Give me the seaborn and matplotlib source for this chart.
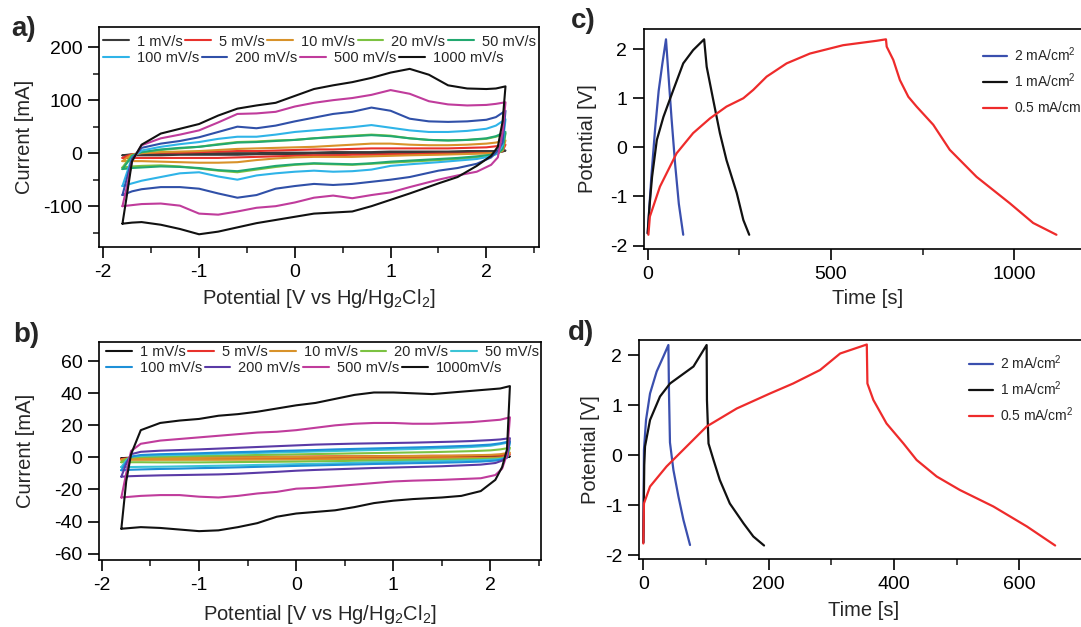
import matplotlib
matplotlib.use("Agg")
import matplotlib.pyplot as plt
import seaborn as sns
from matplotlib.ticker import MultipleLocator
from matplotlib.lines import Line2D

sns.set_style("ticks")
plt.rcParams['font.family'] = ['Liberation Sans', 'DejaVu Sans']
plt.rcParams['mathtext.fontset'] = 'custom'
plt.rcParams['mathtext.rm'] = 'Liberation Sans'
plt.rcParams['mathtext.it'] = 'Liberation Sans:italic'
plt.rcParams['mathtext.bf'] = 'Liberation Sans:bold'

# ---------------- data ----------------
# shared potential grids (V) for anodic (up) and cathodic (down) sweeps
V_UP = [-1.8, -1.75, -1.7, -1.6, -1.4, -1.2, -1.0, -0.8, -0.6, -0.4, -0.2, 0.0,
        0.2, 0.4, 0.6, 0.8, 1.0, 1.2, 1.4, 1.6, 1.8, 2.0, 2.1, 2.2]
V_DN = [2.2, 2.17, 2.12, 2.05, 1.9, 1.7, 1.5, 1.2, 1.0, 0.8, 0.6, 0.4, 0.2, 0.0,
        -0.2, -0.4, -0.6, -0.8, -1.0, -1.2, -1.4, -1.6, -1.7, -1.8]

A_LABELS = ['1 mV/s', '5 mV/s', '10 mV/s', '20 mV/s', '50 mV/s',
            '100 mV/s', '200 mV/s', '500 mV/s', '1000 mV/s']
B_LABELS = ['1 mV/s', '5 mV/s', '10 mV/s', '20 mV/s', '50 mV/s',
            '100 mV/s', '200 mV/s', '500 mV/s', '1000mV/s']

# panel a currents (mA)
A1_UP = [-4, -3, -2, -2, -1, -1, -1, 0, 0, 0, 1, 1, 1, 2, 2, 2, 3, 3, 3, 3, 4, 4, 4, 5]
A1_DN = [5, 3, 2, 2, 1, 1, 1, 0, 0, 0, -1, -1, -1, -2, -2, -2, -3, -3, -3, -3, -4, -4, -4, -4]
A5_UP = [-9, -5, -2, 0, 1, 1, 2, 3, 4, 4, 5, 6, 7, 7, 8, 9, 9, 9, 9, 9, 10, 11, 13, 16]
A5_DN = [16, 4, 1, 0, 0, -1, -1, -2, -2, -3, -3, -4, -4, -5, -6, -7, -8, -9, -9, -9, -9, -9, -9, -9]
A10_UP = [-15, -8, -3, 0, 2, 3, 4, 6, 8, 9, 10, 11, 12, 14, 16, 18, 18, 16, 15, 15, 16, 18, 20, 24]
A10_DN = [24, 5, 1, 0, -1, -2, -3, -4, -5, -6, -7, -7, -7, -8, -10, -13, -17, -18, -18, -17, -16, -15, -15, -15]
A20_UP = [-27, -15, -4, 2, 6, 9, 12, 17, 21, 22, 24, 25, 28, 31, 33, 35, 33, 28, 25, 24, 25, 27, 31, 37]
A20_DN = [37, 6, -1, -4, -8, -11, -13, -16, -18, -20, -22, -21, -20, -22, -26, -31, -36, -33, -29, -25, -23, -24, -25, -27]
A50_UP = [-30, -18, -5, 2, 7, 10, 12, 16, 20, 21, 23, 25, 28, 30, 32, 34, 32, 28, 25, 24, 25, 28, 32, 40]
A50_DN = [40, 8, 0, -3, -6, -9, -11, -14, -16, -19, -21, -20, -19, -21, -24, -29, -34, -32, -28, -26, -25, -27, -28, -30]
A100_UP = [-62, -35, -8, 5, 12, 17, 21, 27, 31, 31, 35, 40, 43, 46, 49, 53, 48, 43, 40, 40, 42, 46, 52, 64]
A100_DN = [64, 15, 0, -6, -11, -14, -17, -21, -24, -31, -34, -35, -33, -35, -38, -42, -50, -44, -36, -38, -45, -52, -57, -62]
A200_UP = [-79, -45, -10, 10, 18, 23, 30, 40, 50, 47, 52, 60, 67, 74, 78, 86, 80, 65, 60, 59, 60, 63, 68, 80]
A200_DN = [80, 20, 5, -8, -20, -28, -33, -45, -50, -54, -58, -60, -58, -62, -67, -79, -84, -76, -67, -64, -64, -68, -72, -79]
A500_UP = [-100, -60, -15, 15, 28, 35, 43, 58, 74, 75, 78, 88, 95, 100, 104, 110, 119, 112, 98, 92, 90, 91, 93, 96]
A500_DN = [96, 40, -8, -22, -35, -42, -50, -64, -74, -79, -85, -80, -84, -93, -100, -103, -110, -116, -114, -99, -95, -96, -98, -100]
A1000_UP = [-133, -75, -15, 16, 37, 46, 55, 71, 84, 90, 95, 108, 121, 128, 134, 142, 152, 159, 148, 128, 122, 121, 122, 126]
A1000_DN = [126, 60, 12, -5, -24, -45, -57, -76, -88, -100, -110, -112, -114, -120, -126, -132, -140, -148, -153, -143, -135, -130, -131, -133]

# panel b currents (mA)
B1_UP = [-0.5, -0.3, -0.2, -0.1, 0, 0, 0, 0, 0.1, 0.1, 0.1, 0.1, 0.2, 0.2, 0.2, 0.2, 0.3, 0.3, 0.3, 0.3, 0.4, 0.4, 0.5, 0.6]
B1_DN = [0.6, 0.2, 0, -0.1, -0.1, -0.2, -0.2, -0.2, -0.3, -0.3, -0.3, -0.3, -0.4, -0.4, -0.4, -0.4, -0.4, -0.5, -0.5, -0.5, -0.5, -0.5, -0.5, -0.5]
B5_UP = [-1, -0.6, -0.3, -0.1, 0, 0.1, 0.2, 0.3, 0.3, 0.4, 0.5, 0.5, 0.6, 0.7, 0.7, 0.8, 0.9, 0.9, 1.0, 1.0, 1.1, 1.3, 1.5, 2.0]
B5_DN = [2.0, 0.3, 0, -0.2, -0.3, -0.4, -0.4, -0.5, -0.5, -0.6, -0.6, -0.7, -0.7, -0.8, -0.8, -0.8, -0.9, -0.9, -0.9, -1.0, -1.0, -1.0, -1.0, -1.0]
B10_UP = [-1.5, -1, -0.6, -0.5, -0.4, -0.3, -0.2, -0.1, 0, 0.1, 0.2, 0.3, 0.4, 0.5, 0.6, 0.7, 0.8, 0.9, 1.0, 1.1, 1.3, 1.6, 2.0, 3.0]
B10_DN = [3.0, 0.5, 0, -0.2, -0.4, -0.5, -0.6, -0.7, -0.8, -0.9, -1.0, -1.1, -1.2, -1.3, -1.35, -1.4, -1.45, -1.5, -1.5, -1.5, -1.5, -1.5, -1.5, -1.5]
B20_UP = [-3, -1, 0, 0.3, 0.5, 0.7, 0.9, 1.1, 1.3, 1.5, 1.7, 1.9, 2.1, 2.3, 2.5, 2.7, 2.9, 3.1, 3.3, 3.6, 3.9, 4.4, 5.0, 6.0]
B20_DN = [6.0, 0, -0.5, -0.8, -1.0, -1.2, -1.4, -1.6, -1.8, -2.0, -2.1, -2.3, -2.4, -2.6, -2.7, -2.8, -2.9, -3.0, -3.1, -3.1, -3.1, -3.0, -3.0, -3.0]
B50_UP = [-6, -2, 0.5, 1, 1.3, 1.6, 1.9, 2.2, 2.5, 2.8, 3.1, 3.4, 3.7, 4.0, 4.3, 4.6, 4.9, 5.2, 5.6, 6.0, 6.5, 7.3, 8.3, 9.5]
B50_DN = [9.5, 0, -0.8, -1.3, -1.7, -2.0, -2.3, -2.6, -2.9, -3.1, -3.4, -3.7, -4.0, -4.2, -4.5, -4.7, -5.0, -5.2, -5.4, -5.6, -5.8, -5.9, -6.0, -6.0]
B100_UP = [-8, -3, 0.5, 1.5, 2, 2.3, 2.6, 3, 3.3, 3.6, 4, 4.3, 4.6, 5, 5.3, 5.6, 5.9, 6.2, 6.5, 6.9, 7.3, 8, 8.8, 10]
B100_DN = [10, 0, -1.2, -2, -2.6, -3, -3.3, -3.6, -3.9, -4.1, -4.4, -4.7, -5, -5.3, -5.6, -5.9, -6.2, -6.5, -6.7, -7, -7.2, -7.5, -7.7, -8]
B200_UP = [-12, -4, 2, 3.5, 4.2, 4.6, 5, 5.5, 6, 6.5, 7, 7.5, 8, 8.3, 8.6, 8.8, 9, 9.2, 9.5, 9.8, 10.2, 10.8, 11.2, 12]
B200_DN = [12, 0, -2, -3.5, -4.5, -5, -5.5, -6, -6.3, -6.6, -7, -7.4, -7.8, -8.3, -9, -9.6, -10.2, -10.6, -10.8, -11, -11.2, -11.5, -11.7, -12]
B500_UP = [-25, -10, 4, 8.5, 10.5, 11.5, 12.5, 13.5, 14.5, 15.5, 16, 17, 18.5, 20, 21, 21.5, 21.5, 21, 21, 21.5, 22, 23, 23.5, 25]
B500_DN = [25, 2, -7, -11, -13, -13.5, -14, -14.5, -15, -16, -17, -18, -19, -19.5, -21.5, -22.5, -24, -25, -24.5, -23.5, -23.5, -24, -24.5, -25]
B1000_UP = [-44.5, -15, 2, 17, 21.5, 23, 24, 26, 27, 28.5, 30.5, 32.5, 34, 36.5, 39, 40.5, 40.5, 40, 39.5, 40.5, 41.5, 42.5, 43, 44.5]
B1000_DN = [44.5, 5, -6, -14, -21, -24, -25, -26, -27, -28.5, -31, -33, -34, -35, -37, -41, -43.5, -45.5, -46, -45, -44, -43.5, -44, -44.5]

A_COLORS = ['#3a3a3a', '#e8322c', '#d8922a', '#7cc242', '#22a870',
            '#2fb4e8', '#3050a8', '#c03c9c', '#111111']
B_COLORS = ['#111111', '#e8322c', '#d8922a', '#7cc242', '#3cc4d6',
            '#1e90d8', '#5a3aa6', '#c03c9c', '#111111']

# galvanostatic charge/discharge (time s, potential V)
GCD_LABELS = ['2 mA/cm$^2$', '1 mA/cm$^2$', '0.5 mA/cm$^2$']
GCD_COLORS = ['#3a4fae', '#111111', '#ee2b2b']
C2_T = [0, 10, 20, 30, 40, 50, 56, 65, 75, 85, 97]
C2_V = [-1.75, -0.6, 0.35, 1.15, 1.7, 2.2, 1.55, 0.6, -0.35, -1.15, -1.78]
C1_T = [0, 5, 12, 25, 43, 70, 97, 124, 154, 161, 179, 197, 215, 243, 261, 277]
C1_V = [-1.75, -1.2, -0.6, 0.15, 0.62, 1.17, 1.71, 1.98, 2.2, 1.64, 0.96, 0.29, -0.26, -0.93, -1.48, -1.78]
C05_T = [2, 6, 33.5, 79, 124, 170, 215, 261, 288, 324.5, 379, 442.6, 533, 624.5, 650,
         652, 670, 688, 711, 733.6, 779, 824, 897, 988, 1051.5, 1115]
C05_V = [-1.78, -1.41, -0.8, -0.12, 0.29, 0.59, 0.83, 1.0, 1.17, 1.44, 1.71, 1.91, 2.08, 2.17, 2.2,
         2.05, 1.78, 1.37, 1.03, 0.83, 0.46, -0.05, -0.6, -1.14, -1.54, -1.78]
D2_T = [0, 1, 4.3, 10.7, 21.3, 32, 40, 41, 42.5, 48, 56, 64, 74.5]
D2_V = [-1.75, 0.1, 0.7, 1.23, 1.67, 1.97, 2.2, 1.2, 0.25, -0.3, -0.83, -1.3, -1.8]
D1_T = [0, 1.5, 2.7, 10.7, 26.6, 42.6, 80, 101, 101.5, 104, 112, 122, 138, 160, 175.5, 192.6]
D1_V = [-1.75, -0.2, 0.17, 0.7, 1.17, 1.43, 1.77, 2.2, 1.1, 0.23, -0.1, -0.5, -0.97, -1.37, -1.63, -1.81]
D05_T = [0, 1, 10.7, 37, 69, 101, 149, 202, 239, 282, 314, 356.5, 357.5, 367, 388, 415, 436,
         468, 505, 558.5, 612, 657]
D05_V = [-1.77, -0.97, -0.63, -0.23, 0.17, 0.57, 0.93, 1.23, 1.43, 1.7, 2.03, 2.21, 1.43, 1.1, 0.63,
         0.23, -0.1, -0.43, -0.7, -1.03, -1.43, -1.81]

# ---------------- layout ----------------
W, H = 1081, 627
fig = plt.figure(figsize=(W / 100, H / 100), dpi=100)


def add_axes(l, t, r, b):
    return fig.add_axes([l / W, 1 - b / H, (r - l) / W, (b - t) / H])


def style(ax, left, top, right, bottom, ylab_px, xlab_top_px):
    for s in ax.spines.values():
        s.set_linewidth(1.2)
        s.set_color('black')
    ax.tick_params(which='major', direction='out', length=8, width=1.2,
                   labelsize=14, pad=4, colors='black')
    ax.tick_params(which='minor', direction='out', length=4.3, width=1.2)
    ax.tick_params(top=False, right=False, which='both')
    ax.xaxis.label.set_size(14.5)
    ax.yaxis.label.set_size(14.5)
    ax.yaxis.set_label_coords((ylab_px - left) / (right - left), 0.5)
    ax.xaxis.set_label_coords(0.5, -(xlab_top_px - bottom) / (bottom - top))


def cv_panel(box, ups, dns, labels, colors, ylim, yticks, yminor, xlim,
             leg_rows, ylab_px, xlab_px):
    l, t, r, b = box
    ax = add_axes(l, t, r, b)
    for up, dn, col in zip(ups, dns, colors):
        sns.lineplot(x=V_UP + V_DN, y=up + dn, sort=False, estimator=None,
                     color=col, linewidth=1.5, ax=ax, legend=False)
    ax.set_xlim(*xlim)
    ax.set_ylim(*ylim)
    ax.set_yticks(yticks)
    if yminor:
        ax.yaxis.set_minor_locator(MultipleLocator(yminor))
    ax.set_xticks([-2, -1, 0, 1, 2])
    ax.set_xticklabels(['-2', '-1', '0', '1', '2'])
    ax.set_yticklabels([str(v) for v in yticks])
    ax.xaxis.set_minor_locator(MultipleLocator(0.5))
    ax.set_xlabel('Potential [V vs Hg/Hg$_2$Cl$_2$]')
    ax.set_ylabel('Current [mA]')
    style(ax, l, t, r, b, ylab_px, xlab_px)
    handles = [Line2D([], [], color=c, lw=1.5) for c in colors]
    legs = []
    for (i0, i1, xpx, ypx) in leg_rows:
        leg = ax.legend(handles[i0:i1], labels[i0:i1], ncol=i1 - i0,
                        loc='upper left', bbox_to_anchor=(xpx / W, 1 - ypx / H),
                        bbox_transform=fig.transFigure, frameon=False,
                        fontsize=10.5, handlelength=1.75, handletextpad=0.55,
                        columnspacing=0.2, borderpad=0, borderaxespad=0)
        legs.append(leg)
    for leg in legs[:-1]:
        ax.add_artist(leg)
    return ax


# panel a
cv_panel((99, 27, 539, 247),
         [A1_UP, A5_UP, A10_UP, A20_UP, A50_UP, A100_UP, A200_UP, A500_UP, A1000_UP],
         [A1_DN, A5_DN, A10_DN, A20_DN, A50_DN, A100_DN, A200_DN, A500_DN, A1000_DN],
         A_LABELS, A_COLORS, (-177, 238), [-100, 0, 100, 200], 50, (-2.045, 2.55),
         [(0, 5, 103, 34.5), (5, 9, 103, 51.5)], 34, 287)

# panel b
cv_panel((99, 342, 541, 560),
         [B1_UP, B5_UP, B10_UP, B20_UP, B50_UP, B100_UP, B200_UP, B500_UP, B1000_UP],
         [B1_DN, B5_DN, B10_DN, B20_DN, B50_DN, B100_DN, B200_DN, B500_DN, B1000_DN],
         B_LABELS, B_COLORS, (-64, 72), [-60, -40, -20, 0, 20, 40, 60], None, (-2.03, 2.52),
         [(0, 5, 106, 345.5), (5, 9, 106, 361.5)], 35, 603)


def gcd_panel(box, series, xlim, ylim, xticks, xminor, leg_xy, ylab_px, xlab_px):
    l, t, r, b = box
    ax = add_axes(l, t, r, b)
    for (tt, vv), col in zip(series, GCD_COLORS):
        sns.lineplot(x=tt, y=vv, sort=False, estimator=None, color=col,
                     linewidth=1.6, ax=ax, legend=False)
    ax.set_xlim(*xlim)
    ax.set_ylim(*ylim)
    ax.set_xticks(xticks)
    ax.set_xticklabels([str(v) for v in xticks])
    ax.xaxis.set_minor_locator(MultipleLocator(xminor))
    ax.set_yticks([-2, -1, 0, 1, 2])
    ax.set_yticklabels(['-2', '-1', '0', '1', '2'])
    ax.set_xlabel('Time [s]')
    ax.set_ylabel('Potential [V]')
    style(ax, l, t, r, b, ylab_px, xlab_px)
    handles = [Line2D([], [], color=c, lw=1.6) for c in GCD_COLORS]
    ax.legend(handles, GCD_LABELS, loc='upper left',
              bbox_to_anchor=(leg_xy[0] / W, 1 - leg_xy[1] / H),
              bbox_transform=fig.transFigure, frameon=False, fontsize=10,
              handlelength=1.75, handletextpad=0.45, labelspacing=0.55,
              borderpad=0, borderaxespad=0)
    return ax


gcd_panel((644, 29, 1092, 249),
          [(C2_T, C2_V), (C1_T, C1_V), (C05_T, C05_V)],
          (-10, 1212), (-2.07, 2.41), [0, 500, 1000], 250, (983, 45), 597, 289)
gcd_panel((639, 340, 1089, 559),
          [(D2_T, D2_V), (D1_T, D1_V), (D05_T, D05_V)],
          (-6.9, 711), (-2.08, 2.3), [0, 200, 400, 600], 100, (969, 353), 600, 601)

# panel letters
for txt, x, y in [('a)', 11, 36), ('b)', 13, 342.5), ('c)', 571, 27.5), ('d)', 568, 340)]:
    fig.text(x / W, 1 - y / H, txt, fontsize=20, fontweight='bold', va='baseline', ha='left')

fig.savefig('out.png', dpi=100)
